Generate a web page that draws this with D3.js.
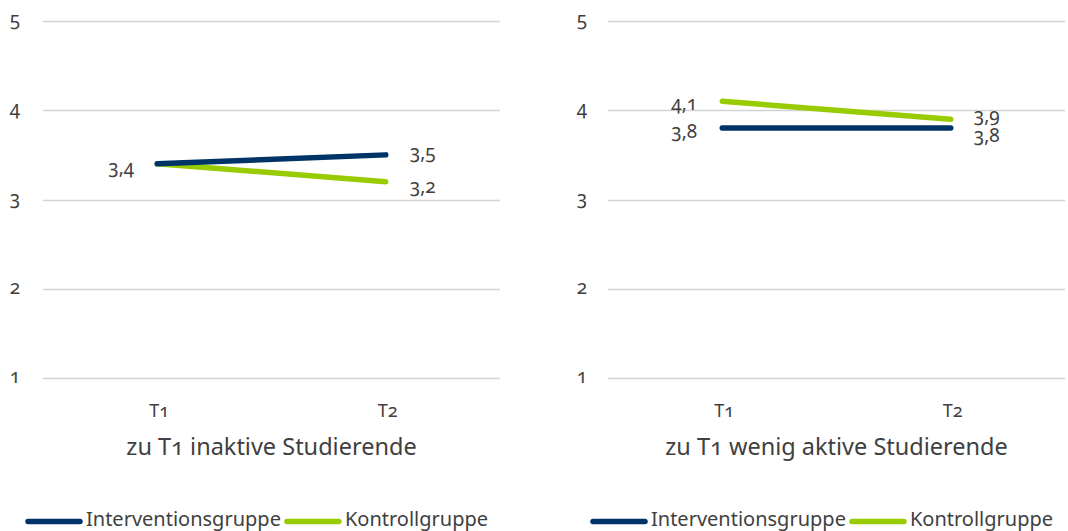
<!DOCTYPE html>
<html>
<head>
<meta charset="utf-8">
<script src="https://cdn.jsdelivr.net/npm/d3@7"></script>
<style>
  html, body { margin: 0; padding: 0; background: #fff; }
  svg text { font-family: "Noto Sans", "Open Sans", sans-serif; fill: #404040; font-variant-numeric: oldstyle-nums; font-feature-settings: "onum" 1; }
</style>
</head>
<body>
<svg id="chart" width="1068" height="531"></svg>
<script>
// Time points and y-axis ticks
const timepoints = ["T1", "T2"];
const yTicks = [1, 2, 3, 4, 5];

// Panel titles
const panelTitles = ["zu T1 inaktive Studierende", "zu T1 wenig aktive Studierende"];

// Series names and colours
const seriesNames = ["Interventionsgruppe", "Kontrollgruppe"];
const seriesColors = ["#003366", "#99cc00"];

// Mean values per panel, each [T1, T2]
const inaktivIntervention = [3.4, 3.5];
const inaktivKontroll = [3.4, 3.2];
const wenigIntervention = [3.8, 3.8];
const wenigKontroll = [4.1, 3.9];

const panels = [
  { title: panelTitles[0], series: [inaktivIntervention, inaktivKontroll], x0: 43, x1: 500, tickX: 15, legendX: 25,
    labelOffsets: [[{dx: -23, dy: 10}, {dx: 24, dy: 4}], [{dx: -23, dy: 10}, {dx: 24, dy: 11}]],
    hideFirst: [false, true] },
  { title: panelTitles[1], series: [wenigIntervention, wenigKontroll], x0: 608, x1: 1065, tickX: 582, legendX: 590,
    labelOffsets: [[{dx: -25, dy: 10}, {dx: 23, dy: 14}], [{dx: -25, dy: 8.5}, {dx: 23, dy: 3}]],
    hideFirst: [false, false] }
];

const svg = d3.select("#chart");
const fmt = v => d3.format(".1f")(v).replace(".", ",");

const y = d3.scaleLinear().domain([1, 5]).range([378, 21]);

panels.forEach(p => {
  const g = svg.append("g");
  const x = d3.scaleBand().domain(timepoints).range([p.x0, p.x1]);
  const cx = t => x(t) + x.bandwidth() / 2;

  // horizontal gridlines
  g.selectAll("line.grid").data(yTicks).join("line")
    .attr("x1", p.x0).attr("x2", p.x1)
    .attr("y1", d => Math.round(y(d)) + 0.5).attr("y2", d => Math.round(y(d)) + 0.5)
    .attr("stroke", "#d3d3d3").attr("stroke-width", 1.3);

  // y tick labels
  g.selectAll("text.ytick").data(yTicks).join("text")
    .attr("x", p.tickX).attr("y", d => y(d) + 5)
    .attr("text-anchor", "middle").style("font-size", "19px")
    .text(d => d);

  // x category labels
  g.selectAll("text.xtick").data(timepoints).join("text")
    .attr("x", d => cx(d) + 2).attr("y", 417)
    .attr("text-anchor", "middle").style("font-size", "18px")
    .text(d => d);

  // panel title
  g.append("text")
    .attr("x", (p.x0 + p.x1) / 2).attr("y", 455)
    .attr("text-anchor", "middle").style("font-size", "23.5px")
    .text(p.title);

  // lines (Kontrollgruppe first so Interventionsgruppe sits on top)
  const line = d3.line().x((d, i) => cx(timepoints[i])).y(d => y(d));
  [1, 0].forEach(si => {
    g.append("path")
      .datum(p.series[si])
      .attr("d", line)
      .attr("fill", "none")
      .attr("stroke", seriesColors[si])
      .attr("stroke-width", 5.5)
      .attr("stroke-linecap", "round");
  });

  // value labels
  p.series.forEach((vals, si) => {
    vals.forEach((v, i) => {
      if (i === 0 && p.hideFirst[si]) return;
      const off = p.labelOffsets[si][i];
      g.append("text")
        .attr("x", cx(timepoints[i]) + off.dx)
        .attr("y", y(v) + off.dy)
        .attr("text-anchor", i === 0 ? "end" : "start")
        .style("font-size", "19px")
        .text(fmt(v));
    });
  });

  // legend
  const lg = g.append("g").attr("transform", `translate(${p.legendX},521.5)`);
  let lx = 0;
  seriesNames.forEach((name, si) => {
    lg.append("line")
      .attr("x1", lx + 3).attr("x2", lx + 55)
      .attr("y1", 0).attr("y2", 0)
      .attr("stroke", seriesColors[si]).attr("stroke-width", 5.5)
      .attr("stroke-linecap", "round");
    const t = lg.append("text")
      .attr("x", lx + 61).attr("y", 4)
      .style("font-size", "20px")
      .text(name);
    lx += 61 + t.node().getComputedTextLength() + 3;
  });
});
</script>
</body>
</html>
